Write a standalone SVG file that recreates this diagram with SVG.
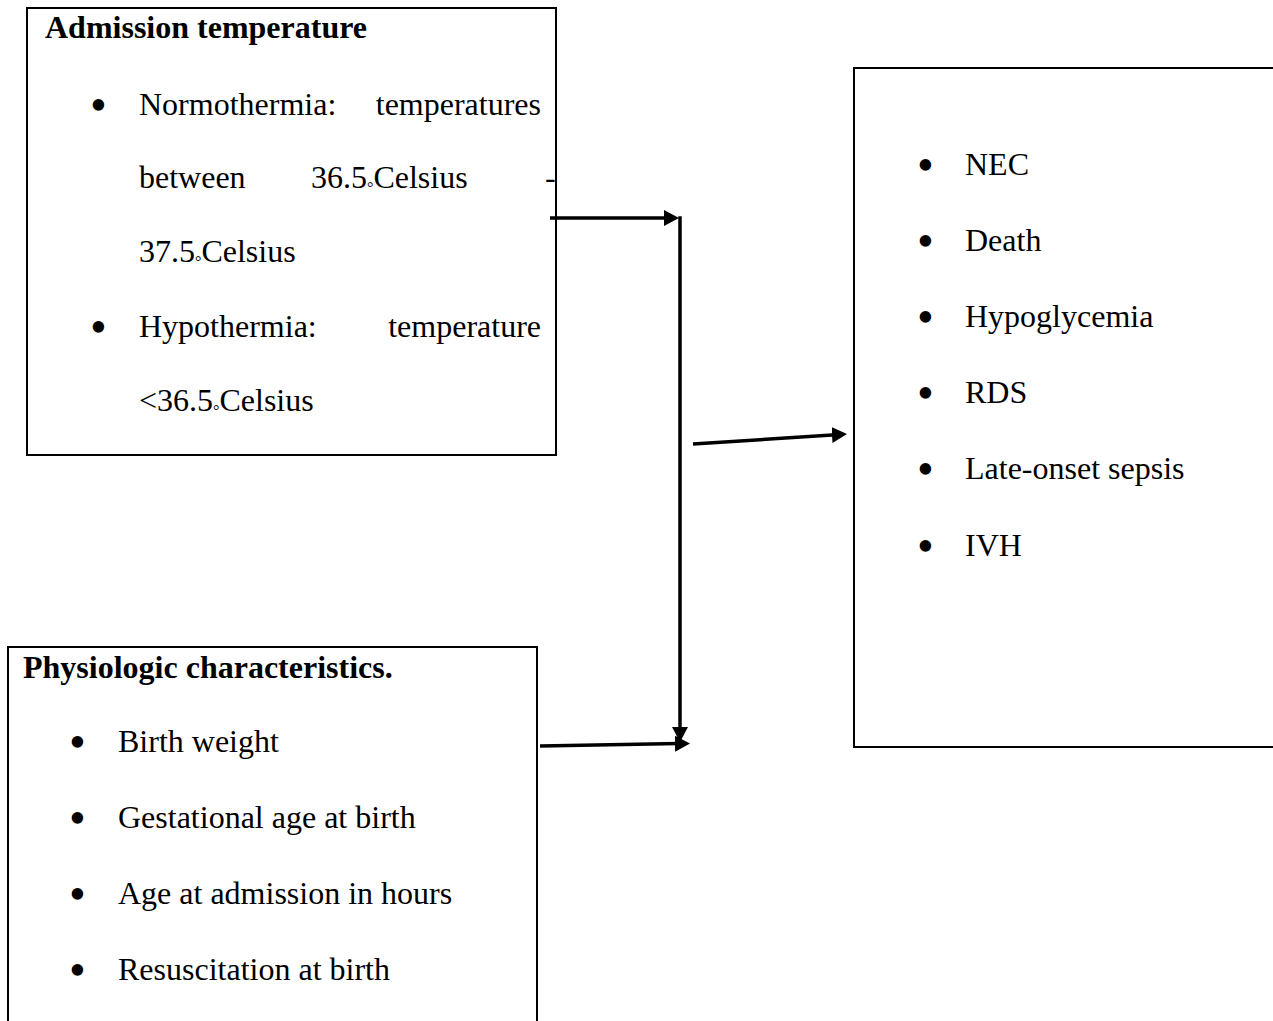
<svg xmlns="http://www.w3.org/2000/svg" width="1273" height="1021" viewBox="0 0 1273 1021">
<style>
.t{font-family:"Liberation Serif","Times New Roman",serif;font-size:32px;fill:#000}
.b{font-weight:bold}
.bul{font-family:"Liberation Serif","Times New Roman",serif;font-size:48px;fill:#000}
.box{fill:none;stroke:#000;stroke-width:2}
.conn{fill:none;stroke:#000;stroke-width:3.5}
</style>
<defs>
<marker id="ah" viewBox="0 0 15 16" refX="4" refY="8" markerWidth="15" markerHeight="16" markerUnits="userSpaceOnUse" orient="auto">
<path d="M0,0 L15,8 L0,16 z" fill="#000"/>
</marker>
</defs>
<rect width="1273" height="1021" fill="#fff"/>
<g id="admission">
<rect class="box" x="27" y="8" width="529" height="447"/>
<text class="t b" x="45" y="38">Admission temperature</text>
<text class="bul" x="90" y="121">•</text>
<text class="t" x="139" y="115">Normothermia:</text>
<text class="t" x="541" y="115" text-anchor="end">temperatures</text>
<text class="t" x="139" y="188">between</text>
<text class="t" x="311" y="188">36.5<tspan font-size="16" dy="5">°</tspan><tspan dy="-5">Celsius</tspan></text>
<text class="t" x="545" y="188">-</text>
<text class="t" x="139" y="262">37.5<tspan font-size="16" dy="5">°</tspan><tspan dy="-5">Celsius</tspan></text>
<text class="bul" x="90" y="343">•</text>
<text class="t" x="139" y="337">Hypothermia:</text>
<text class="t" x="541" y="337" text-anchor="end">temperature</text>
<text class="t" x="139" y="411">&lt;36.5<tspan font-size="16" dy="5">°</tspan><tspan dy="-5">Celsius</tspan></text>
</g>
<g id="physiologic">
<path class="box" d="M8,1022 V647 H537 V1022"/>
<text class="t b" x="23" y="678">Physiologic characteristics.</text>
<text class="bul" x="69" y="758">•</text>
<text class="t" x="118" y="752">Birth weight</text>
<text class="bul" x="69" y="834">•</text>
<text class="t" x="118" y="828">Gestational age at birth</text>
<text class="bul" x="69" y="910">•</text>
<text class="t" x="118" y="904">Age at admission in hours</text>
<text class="bul" x="69" y="986">•</text>
<text class="t" x="118" y="980">Resuscitation at birth</text>
</g>
<g id="outcomes">
<path class="box" d="M1274,68 H854 V747 H1274"/>
<text class="bul" x="917" y="181">•</text>
<text class="t" x="965" y="175">NEC</text>
<text class="bul" x="917" y="257">•</text>
<text class="t" x="965" y="251">Death</text>
<text class="bul" x="917" y="333">•</text>
<text class="t" x="965" y="327">Hypoglycemia</text>
<text class="bul" x="917" y="409">•</text>
<text class="t" x="965" y="403">RDS</text>
<text class="bul" x="917" y="485">•</text>
<text class="t" x="965" y="479">Late-onset sepsis</text>
<text class="bul" x="917" y="562">•</text>
<text class="t" x="965" y="556">IVH</text>
</g>
<g id="connectors">
<line class="conn" x1="550" y1="218" x2="668" y2="218" marker-end="url(#ah)"/>
<line class="conn" x1="680" y1="216.3" x2="680" y2="731" marker-end="url(#ah)"/>
<line class="conn" x1="540" y1="746" x2="679" y2="743.6" marker-end="url(#ah)"/>
<line class="conn" x1="693" y1="444" x2="836" y2="434.7" marker-end="url(#ah)"/>
</g>
</svg>
